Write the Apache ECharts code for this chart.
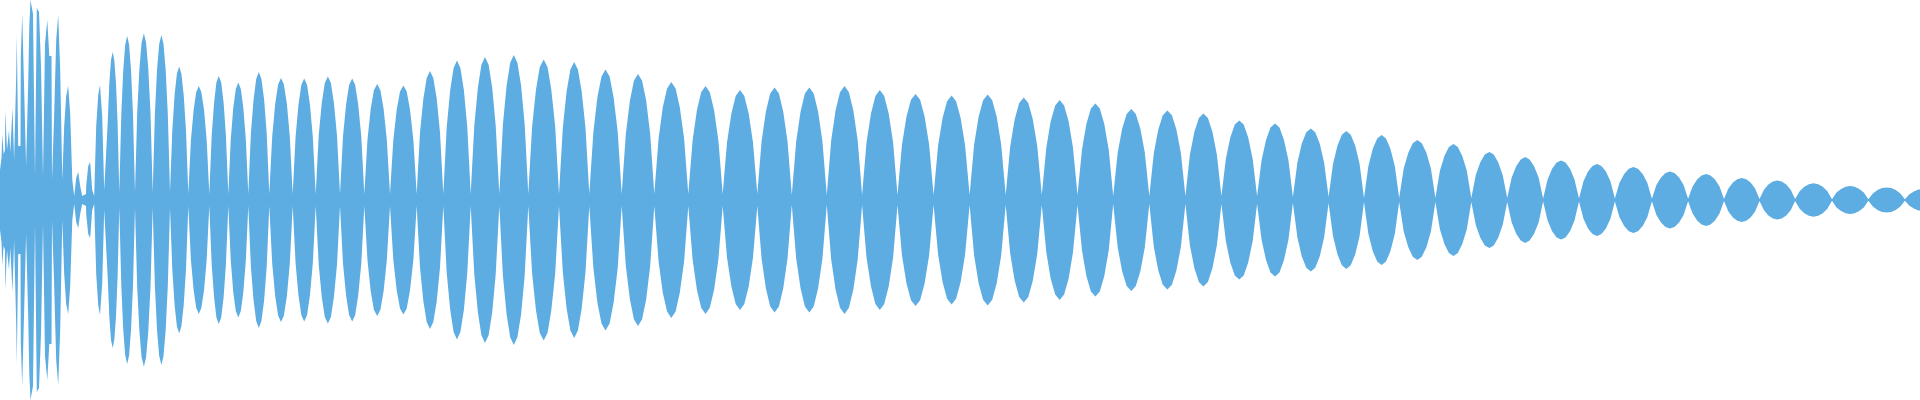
<!DOCTYPE html>
<html>
<head>
<meta charset="utf-8">
<script src="https://cdn.jsdelivr.net/npm/echarts@6/dist/echarts.min.js"></script>
<style>
html,body{margin:0;padding:0;background:#fff;}
#chart{width:1920px;height:400px;}
</style>
</head>
<body>
<div id="chart"></div>
<script>
// Waveform envelope: time (sample index) and amplitude (fraction of full scale)
const time = [
  0,1,1.5,2.3,3.3,3.6,5,5.3,6.5,7,8.7,9,10,10.3,12.3,12.5,13.8,14.1,16,16.2,16.8,17.8,18.2,20.5,20.8,22,22.2,24,24.3,25.8,
  26.1,28,28.2,29.3,30.5,32.5,33,34.5,35,36.5,36.8,38.5,39,40.5,41,42.5,43,44.8,45,47,47.3,49,49.3,51.5,52,53.8,54,56,56.2,58,
  58.2,60,60.2,62,62.3,64,64.2,66,66.2,68,68.2,70,70.2,72,72.3,74,74.2,76,76.2,78,78.2,80,80.2,82,82.2,84,84.2,86,86.2,88,
  88.2,90,90.2,92,92.2,94,94.2,96,96.2,98,98.2,100,102,102.2,104,104.2,
  106,107.7,109.3,111.0,112.7,114.3,116.0,117.6,
  119.3,121.3,123.2,125.2,127.2,129.1,131.1,133.0,
  135,137.2,139.4,141.6,143.9,146.1,148.3,150.5,
  152.7,154.9,157.0,159.2,161.4,163.5,165.7,167.8,
  170,172.3,174.6,176.9,179.2,181.4,183.7,186.0,
  188.3,190.9,193.6,196.2,198.8,201.4,204.1,206.7,
  209.3,211.7,214.1,216.4,218.8,221.2,223.6,225.9,
  228.3,230.8,233.3,235.8,238.3,240.8,243.3,245.8,
  248.3,250.9,253.6,256.2,258.8,261.4,264.1,266.7,
  269.3,272.2,275.2,278.1,281.0,283.9,286.9,289.8,
  292.7,295.6,298.5,301.3,304.2,307.1,309.9,312.8,
  315.7,318.7,321.8,324.8,327.9,330.9,333.9,337.0,
  340,343.0,346.1,349.1,352.2,355.2,358.2,361.3,
  364.3,367.5,370.7,373.9,377.2,380.4,383.6,386.8,
  390,393.3,396.7,400.0,403.4,406.7,410.0,413.4,
  416.7,420.0,423.4,426.7,430.0,433.3,436.7,440.0,
  443.3,446.7,450.2,453.6,457.0,460.4,463.9,467.3,
  470.7,474.3,477.9,481.4,485.0,488.6,492.2,495.7,
  499.3,502.9,506.6,510.2,513.8,517.4,521.1,524.7,
  528.3,532.1,536.0,539.8,543.7,547.5,551.3,555.2,
  559,562.8,566.6,570.4,574.2,577.9,581.7,585.5,
  589.3,593.4,597.4,601.5,605.5,609.6,613.6,617.7,
  621.7,625.8,629.9,633.9,638.0,642.1,646.2,650.2,
  654.3,658.6,662.8,667.1,671.3,675.6,679.8,684.1,
  688.3,692.6,696.9,701.2,705.5,709.8,714.1,718.4,
  722.7,727.0,731.4,735.7,740.0,744.3,748.7,753.0,
  757.3,761.6,765.9,770.2,774.6,778.9,783.2,787.5,
  791.8,796.2,800.6,804.9,809.3,813.7,818.1,822.4,
  826.8,831.2,835.6,840.0,844.5,848.9,853.3,857.7,
  862.1,866.5,871.0,875.4,879.8,884.2,888.7,893.1,
  897.5,902.0,906.5,911.0,915.6,920.1,924.6,929.1,
  933.6,938.1,942.6,947.1,951.6,956.1,960.6,965.1,
  969.6,974.1,978.6,983.1,987.7,992.2,996.7,1001.2,
  1005.7,1010.2,1014.7,1019.2,1023.8,1028.3,1032.8,1037.3,
  1041.8,1046.3,1050.7,1055.2,1059.7,1064.1,1068.6,1073.0,
  1077.5,1082.0,1086.4,1090.9,1095.4,1099.8,1104.3,1108.7,
  1113.2,1117.7,1122.2,1126.7,1131.3,1135.8,1140.3,1144.8,
  1149.3,1153.8,1158.3,1162.8,1167.4,1171.9,1176.4,1180.9,
  1185.4,1189.9,1194.4,1198.9,1203.4,1207.9,1212.4,1216.9,
  1221.4,1225.9,1230.3,1234.8,1239.3,1243.7,1248.2,1252.6,
  1257.1,1261.6,1266.1,1270.5,1275.0,1279.5,1283.9,1288.4,
  1292.9,1297.4,1301.8,1306.3,1310.8,1315.2,1319.7,1324.1,
  1328.6,1333.0,1337.5,1341.9,1346.3,1350.7,1355.2,1359.6,
  1364,1368.4,1372.8,1377.2,1381.6,1386.0,1390.4,1394.8,
  1399.2,1403.7,1408.3,1412.8,1417.3,1421.8,1426.4,1430.9,
  1435.4,1439.9,1444.4,1448.9,1453.4,1457.8,1462.3,1466.8,
  1471.3,1475.8,1480.3,1484.8,1489.3,1493.7,1498.2,1502.7,
  1507.2,1511.7,1516.2,1520.7,1525.2,1529.6,1534.1,1538.6,
  1543.1,1547.6,1552.1,1556.6,1561.1,1565.5,1570.0,1574.5,
  1579,1583.5,1588.0,1592.5,1597.0,1601.4,1605.9,1610.4,
  1614.9,1619.5,1624.2,1628.8,1633.4,1638.0,1642.7,1647.3,
  1651.9,1656.4,1661.0,1665.5,1670.0,1674.5,1679.1,1683.6,
  1688.1,1692.6,1697.1,1701.6,1706.1,1710.5,1715.0,1719.5,
  1724,1728.4,1732.9,1737.3,1741.8,1746.2,1750.6,1755.1,
  1759.5,1764.0,1768.4,1772.9,1777.3,1781.8,1786.2,1790.7,
  1795.1,1799.7,1804.3,1808.9,1813.6,1818.2,1822.8,1827.4,
  1832,1836.5,1841.1,1845.6,1850.2,1854.7,1859.2,1863.8,
  1868.3,1872.9,1877.5,1882.0,1886.6,1891.2,1895.8,1900.3,
  1904.9,1909.4,1913.9,1918.4,1922.9
];
const amplitude = [
  0.15,0.15,0.21,0.33,0.33,0.23,0.25,0.45,0.45,0.25,0.25,0.35,0.35,0.24,0.24,0.46,0.46,0.2,0.2,0.62,0.82,0.82,0.27,0.27,0.71,0.71,0.93,0.93,0.525,0.525,
  0.17,0.17,0.58,0.87,1.0,1.0,0.93,0.93,0.12,0.12,0.96,0.96,0.94,0.94,0.67,0.67,0.12,0.12,0.78,0.78,0.9,0.9,0.72,0.72,0.1,0.1,0.4,0.4,0.8,0.8,
  0.925,0.925,0.65,0.65,0.1,0.1,0.37,0.37,0.52,0.52,0.57,0.57,0.43,0.43,0.1,0.1,0.02,0.02,0.11,0.11,0.14,0.14,0.07,0.07,0.02,0.02,0.03,0.03,0.07,0.07,
  0.17,0.17,0.19,0.19,0.05,0.05,0.02,0.02,0.37,0.37,0.525,0.575,0.575,0.42,0.42,0.05,
  0.04,0.386,0.582,0.70,0.74,0.70,0.582,0.386,
  0.04,0.428,0.645,0.776,0.82,0.776,0.645,0.428,
  0.04,0.435,0.656,0.788,0.833,0.788,0.656,0.435,
  0.04,0.431,0.649,0.780,0.825,0.780,0.649,0.431,
  0.04,0.348,0.525,0.631,0.667,0.631,0.525,0.348,
  0.03,0.298,0.449,0.539,0.57,0.539,0.449,0.298,
  0.03,0.324,0.488,0.587,0.62,0.587,0.488,0.324,
  0.03,0.306,0.462,0.555,0.587,0.555,0.462,0.306,
  0.03,0.334,0.504,0.605,0.64,0.605,0.504,0.334,
  0.03,0.318,0.48,0.577,0.61,0.577,0.48,0.318,
  0.03,0.317,0.478,0.575,0.608,0.575,0.478,0.317,
  0.03,0.323,0.486,0.585,0.618,0.585,0.486,0.323,
  0.03,0.317,0.478,0.575,0.608,0.575,0.478,0.317,
  0.03,0.303,0.456,0.549,0.58,0.549,0.456,0.303,
  0.03,0.299,0.451,0.542,0.573,0.542,0.451,0.299,
  0.03,0.337,0.508,0.61,0.645,0.61,0.508,0.337,
  0.03,0.364,0.549,0.66,0.698,0.66,0.549,0.364,
  0.03,0.373,0.563,0.676,0.715,0.676,0.563,0.373,
  0.03,0.378,0.571,0.686,0.725,0.686,0.571,0.378,
  0.03,0.367,0.553,0.665,0.703,0.665,0.553,0.367,
  0.03,0.36,0.543,0.653,0.69,0.653,0.543,0.36,
  0.03,0.341,0.514,0.618,0.653,0.618,0.514,0.341,
  0.03,0.329,0.496,0.596,0.63,0.596,0.496,0.329,
  0.03,0.308,0.464,0.558,0.59,0.558,0.464,0.308,
  0.03,0.298,0.449,0.539,0.57,0.539,0.449,0.298,
  0.03,0.287,0.433,0.52,0.55,0.52,0.433,0.287,
  0.03,0.294,0.443,0.533,0.563,0.533,0.443,0.294,
  0.025,0.294,0.443,0.533,0.563,0.533,0.443,0.294,
  0.025,0.298,0.449,0.539,0.57,0.539,0.449,0.298,
  0.025,0.287,0.433,0.52,0.55,0.52,0.433,0.287,
  0.025,0.277,0.417,0.501,0.53,0.501,0.417,0.277,
  0.025,0.272,0.411,0.494,0.522,0.494,0.411,0.272,
  0.025,0.276,0.416,0.499,0.528,0.499,0.416,0.276,
  0.025,0.268,0.404,0.485,0.513,0.485,0.404,0.268,
  0.025,0.261,0.394,0.473,0.5,0.473,0.394,0.261,
  0.025,0.252,0.38,0.457,0.483,0.457,0.38,0.252,
  0.02,0.238,0.358,0.43,0.455,0.43,0.358,0.238,
  0.02,0.234,0.353,0.424,0.448,0.424,0.353,0.234,
  0.02,0.226,0.341,0.41,0.433,0.41,0.341,0.226,
  0.02,0.208,0.313,0.377,0.398,0.377,0.313,0.208,
  0.02,0.2,0.301,0.362,0.383,0.362,0.301,0.2,
  0.015,0.187,0.282,0.339,0.358,0.339,0.282,0.187,
  0.015,0.18,0.272,0.326,0.345,0.326,0.272,0.18,
  0.01,0.17,0.256,0.307,0.325,0.307,0.256,0.17,
  0.01,0.157,0.236,0.284,0.30,0.284,0.236,0.157,
  0.01,0.146,0.22,0.265,0.28,0.265,0.22,0.146,
  0.01,0.125,0.189,0.227,0.24,0.227,0.189,0.125,
  0.01,0.112,0.169,0.203,0.215,0.203,0.169,0.112,
  0.008,0.103,0.156,0.187,0.198,0.187,0.156,0.103,
  0.008,0.094,0.142,0.17,0.18,0.17,0.142,0.094,
  0.008,0.086,0.13,0.156,0.165,0.156,0.13,0.086,
  0.006,0.075,0.113,0.135,0.143,0.135,0.113,0.075,
  0.006,0.068,0.102,0.123,0.13,0.123,0.102,0.068,
  0.005,0.057,0.087,0.104,0.11,0.104,0.087,0.057,
  0.005,0.051,0.077,0.093,0.098,0.093,0.077,0.051,
  0.005,0.044,0.066,0.079,0.084,0.079,0.066,0.044,
  0.004,0.037,0.055,0.066,0.07,0.066,0.055,0.037,
  0.004,0.033,0.05,0.06,0.063,0.06,0.05,0.033,
  0.004,0.029,0.043,0.052,0.055
];

if (time.length !== amplitude.length) console.error('length mismatch', time.length, amplitude.length);

const upper = time.map((x, i) => [x, amplitude[i]]);
const lower = time.map((x, i) => [x, -amplitude[i]]);
const waveColor = '#5dade2';

const chart = echarts.init(document.getElementById('chart'), null, {renderer: 'canvas'});
chart.setOption({
  animation: false,
  backgroundColor: '#ffffff',
  grid: {left: 0, right: 0, top: 0, bottom: 0},
  xAxis: {type: 'value', min: 0, max: 1920, show: false},
  yAxis: {type: 'value', min: -1, max: 1, show: false},
  series: [
    {type: 'line', data: upper, showSymbol: false, symbol: 'none', lineStyle: {width: 0}, areaStyle: {color: waveColor, opacity: 1}, itemStyle: {color: waveColor}},
    {type: 'line', data: lower, showSymbol: false, symbol: 'none', lineStyle: {width: 0}, areaStyle: {color: waveColor, opacity: 1}, itemStyle: {color: waveColor}}
  ]
});
</script>
</body>
</html>
